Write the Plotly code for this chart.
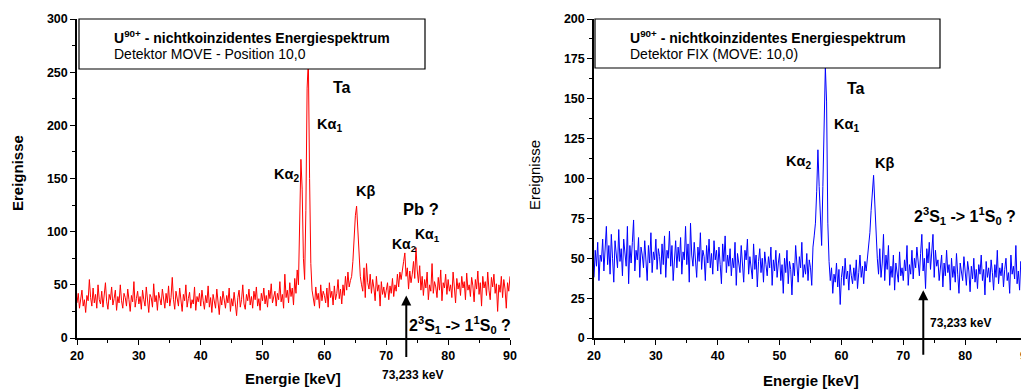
import numpy as np
import plotly.graph_objects as go

# Energiekanäle: 20 ... 90 keV in 0.2 keV Schritten
e_start = 20.0
e_step = 0.2

# Detektor MOVE - Position 10,0 (rot)
counts_move = [
    33, 42, 28, 38, 45, 30, 36, 24, 40, 35,
    55, 38, 30, 47, 33, 41, 28, 50, 36, 32,
    44, 29, 38, 52, 34, 27, 41, 36, 48, 31,
    37, 45, 26, 39, 33, 50, 35, 28, 42, 38,
    30, 46, 36, 25, 40, 34, 53, 29, 37, 44,
    32, 39, 27, 45, 36, 30, 48, 35, 24, 41,
    38, 29, 51, 34, 40, 26, 43, 37, 31, 46,
    35, 28, 42, 33, 49, 30, 38, 57, 36, 27,
    44, 34, 30, 47, 38, 25, 41, 35, 50, 29,
    37, 43, 28, 36, 32, 48, 26, 39, 34, 42,
    30, 45, 35, 27, 40, 33, 49, 29, 38, 24,
    41, 34, 28, 46, 36, 22, 39, 31, 44, 35,
    28, 40, 33, 47, 25, 37, 30, 43, 34, 21,
    38, 45, 29, 36, 50, 32, 27, 41, 35, 46,
    31, 39, 28, 44, 36, 48, 30, 37, 26, 42,
    35, 47, 32, 40, 29, 45, 37, 51, 33, 39,
    44, 30, 42, 36, 53, 34, 41, 28, 60, 38,
    45, 33, 52, 39, 47, 31, 56, 42, 64, 50,
    110, 168, 140, 75, 55, 120, 235, 262, 150, 70,
    45, 38, 30, 48, 36, 42, 28, 50, 35, 44,
    40, 33, 47, 29, 52, 38, 44, 31, 49, 36,
    42, 55, 37, 46, 32, 50, 40, 58, 45, 62,
    48, 54, 58, 72, 98, 115, 124, 100, 78, 58,
    50, 44, 66, 38, 70, 52, 46, 60, 42, 55,
    47, 35, 58, 44, 50, 30, 53, 41, 48, 38,
    45, 52, 36, 49, 42, 56, 39, 50, 44, 60,
    48, 62, 55, 66, 72, 80, 58, 66, 46, 63,
    52, 60, 72, 56, 85, 64, 52, 68, 45, 58,
    40, 55, 47, 62, 36, 50, 44, 70, 42, 53,
    48, 38, 57, 45, 64, 35, 52, 47, 60, 41,
    55, 44, 50, 38, 62, 48, 33, 56, 46, 52,
    40, 58, 47, 53, 36, 61, 45, 50, 39, 57,
    49, 34, 55, 46, 63, 41, 52, 30, 58, 47,
    53, 40, 62, 45, 36, 57, 48, 60, 42, 51,
    25, 50, 43, 58, 38, 55, 46, 28, 52, 44,
    58,
]

# Detektor FIX (MOVE: 10,0) (blau)
counts_fix = [
    38, 55, 45, 60, 36, 52, 48, 62, 42, 57,
    70, 46, 58, 40, 65, 50, 35, 61, 53, 44,
    68, 48, 56, 39, 62, 51, 45, 70, 34, 58,
    47, 60, 74, 42, 55, 49, 63, 38, 57, 52,
    44, 61, 50, 36, 58, 47, 66, 41, 54, 49,
    62, 43, 56, 51, 40, 59, 46, 64, 38, 55,
    50, 67, 45, 58, 36, 53, 61, 44, 57, 48,
    63, 40, 54, 49, 70, 46, 59, 35, 72, 52,
    45, 60, 50, 38, 57, 48, 66, 43, 55, 51,
    36, 58, 47, 62, 44, 53, 40, 61, 49, 55,
    42, 57, 46, 34, 59, 48, 64, 41, 52, 45,
    56, 39, 50, 44, 60, 33, 53, 47, 41, 58,
    46, 35, 55, 49, 62, 40, 51, 44, 37, 59,
    43, 52, 32, 48, 56, 41, 50, 35, 54, 46,
    39, 51, 44, 57, 33, 49, 42, 55, 38, 47,
    53, 36, 46, 28, 50, 41, 55, 34, 48, 43,
    27, 47, 39, 58, 42, 35, 51, 44, 60, 38,
    46, 40, 53, 36, 49, 44, 33, 57, 64, 72,
    92, 118, 95, 70, 58, 95, 140, 170, 148, 72,
    48, 36, 44, 28, 40, 35, 47, 32, 43, 21,
    38, 45, 33, 50, 37, 42, 30, 46, 39, 34,
    44, 36, 49, 31, 41, 52, 38, 45, 34, 48,
    42, 50, 56, 66, 80, 92, 102, 84, 62, 50,
    40, 56, 38, 47, 65, 36, 52, 43, 58, 33,
    45, 38, 52, 30, 47, 41, 35, 54, 39, 44,
    36, 49, 42, 58, 33, 46, 40, 55, 37, 50,
    44, 57, 48, 39, 53, 65, 42, 50, 31, 56,
    47, 60, 43, 52, 65, 38, 55, 45, 49, 36,
    44, 52, 32, 47, 39, 55, 41, 46, 30, 50,
    38, 45, 35, 53, 40, 28, 47, 42, 36, 51,
    39, 33, 48, 42, 29, 45, 37, 50, 35, 43,
    31, 46, 40, 52, 36, 43, 27, 48, 38, 44,
    35, 49, 41, 30, 46, 38, 55, 34, 44, 39,
    47, 32, 43, 50, 36, 41, 28, 52, 40, 45,
    37, 58, 34, 42, 30, 48, 39, 44, 33, 40,
    22,
]

transition_energy = 73.233

W, H = 1029, 389
OFF = 8  # Seitenrand des Browsers
FONT = "Liberation Sans, Arial, sans-serif"


def px(x):
    return (x - OFF) / W


def py(y):
    return 1 - (y - OFF) / H


energy_move = e_start + e_step * np.arange(len(counts_move))
energy_fix = e_start + e_step * np.arange(len(counts_fix))

fig = go.Figure()
fig.add_trace(go.Scatter(x=energy_move, y=counts_move, mode="lines",
                         line=dict(color="#ff0000", width=1),
                         xaxis="x", yaxis="y", showlegend=False))
fig.add_trace(go.Scatter(x=energy_fix, y=counts_fix, mode="lines",
                         line=dict(color="#0000ff", width=1),
                         xaxis="x2", yaxis="y2", showlegend=False))

ydom = [py(338), py(19)]
axis_common = dict(showline=True, linecolor="black", linewidth=1.5,
                   ticks="outside", ticklen=5, tickwidth=1.2, tickcolor="black",
                   showgrid=False, zeroline=False, automargin=False,
                   tickfont=dict(family=FONT, size=12.5, color="black", weight="bold"))

fig.update_layout(
    template="none",
    width=W, height=H,
    margin=dict(l=0, r=0, t=0, b=0, autoexpand=False),
    paper_bgcolor="white", plot_bgcolor="white",
    xaxis=dict(domain=[px(77), px(510)], range=[20, 90], dtick=10,
               minor=dict(dtick=5, ticklen=3, ticks="outside", tickcolor="black"),
               anchor="y", **axis_common),
    yaxis=dict(domain=ydom, range=[0, 300], dtick=50,
               minor=dict(dtick=25, ticklen=3, ticks="outside", tickcolor="black"),
               anchor="x", **axis_common),
    xaxis2=dict(domain=[px(594), px(1027)], range=[20, 90], dtick=10,
                minor=dict(dtick=5, ticklen=3, ticks="outside", tickcolor="black"),
                anchor="y2", **axis_common),
    yaxis2=dict(domain=ydom, range=[0, 200], dtick=25,
                minor=dict(dtick=12.5, ticklen=3, ticks="outside", tickcolor="black"),
                anchor="x2", **axis_common),
)

# Kästen mit Titel
fig.add_shape(type="rect", xref="x domain", yref="y domain",
              x0=2 / 433, x1=348 / 433, y0=(338 - 69) / 319, y1=1,
              line=dict(color="black", width=1.2), fillcolor="white", layer="above")
fig.add_shape(type="rect", xref="x2 domain", yref="y2 domain",
              x0=1 / 433, x1=346 / 433, y0=(338 - 68) / 319, y1=1,
              line=dict(color="black", width=1.2), fillcolor="white", layer="above")


def label(x, y, text, size=13, bold=True, angle=0, xanchor="center"):
    fig.add_annotation(x=px(x), y=py(y), xref="paper", yref="paper",
                       text=text, showarrow=False, textangle=angle,
                       xanchor=xanchor, yanchor="middle",
                       font=dict(family=FONT, size=size, color="black",
                                 weight="bold" if bold else "normal"))


title = "U<sup>90+</sup> - nichtkoinzidentes Energiespektrum"
label(112, 37, title, size=14, xanchor="left")
label(112, 54, "Detektor MOVE - Position 10,0", size=14, bold=False, xanchor="left")
label(628, 37, title, size=14, xanchor="left")
label(628, 54, "Detektor FIX (MOVE: 10,0)", size=14, bold=False, xanchor="left")

# Linienbeschriftungen links
label(342, 87, "Ta", size=16)
label(329, 125, "Kα<sub>1</sub>", size=14.5)
label(286, 175, "Kα<sub>2</sub>", size=14.5)
label(365, 191, "Kβ", size=14.5)
label(421, 209, "Pb ?", size=16.5)
label(404, 245, "Kα<sub>2</sub>", size=14)
label(427, 235, "Kα<sub>1</sub>", size=14)
label(460, 325, "2<sup>3</sup>S<sub>1</sub> -&gt; 1<sup>1</sup>S<sub>0</sub> ?", size=16)
label(412, 375, "73,233 keV", size=12)

# Linienbeschriftungen rechts
label(856, 89, "Ta", size=16)
label(846, 125, "Kα<sub>1</sub>", size=14.5)
label(798, 162, "Kα<sub>2</sub>", size=14.5)
label(884, 163, "Kβ", size=14.5)
label(965, 216, "2<sup>3</sup>S<sub>1</sub> -&gt; 1<sup>1</sup>S<sub>0</sub> ?", size=16)
label(960, 323, "73,233 keV", size=12)

# Achsentitel
label(17, 173, "Ereignisse", size=15, angle=-90)
label(534, 175, "Ereignisse", size=15, bold=False, angle=-90)
label(293, 378, "Energie [keV]", size=15)
label(811, 380, "Energie [keV]", size=15)

# Pfeile bei 73,233 keV
fig.add_annotation(x=transition_energy, y=40, xref="x", yref="y", text="",
                   showarrow=True, arrowhead=2, arrowsize=1, arrowwidth=2,
                   arrowcolor="black", ax=0, ay=63)
fig.add_annotation(x=transition_energy, y=30, xref="x2", yref="y2", text="",
                   showarrow=True, arrowhead=2, arrowsize=1, arrowwidth=2,
                   arrowcolor="black", ax=0, ay=66)

fig.write_html("out.html")
